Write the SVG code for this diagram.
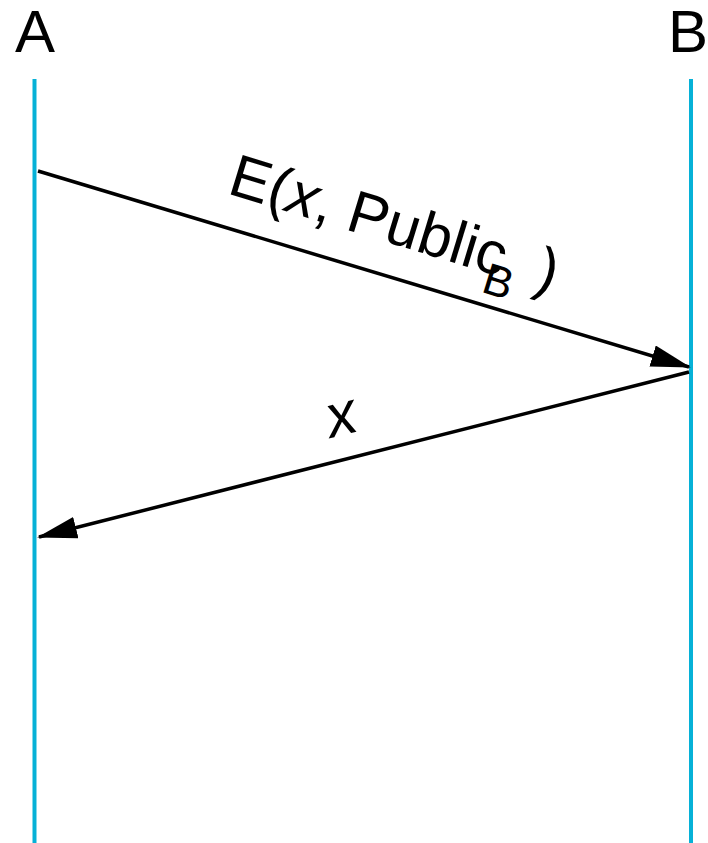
<svg xmlns="http://www.w3.org/2000/svg" width="708" height="843" viewBox="0 0 708 843">
<style>
.life{stroke:#06B1D7;stroke-width:4;fill:none}
.msg{stroke:#000;stroke-width:3.5;fill:none;marker-end:url(#ah)}
.lbl{font-family:"Liberation Sans",Arial,sans-serif;font-size:60px;fill:#000}
.it{font-style:italic}
</style>
<defs>
<marker id="ah" viewBox="0 0 40 22" refX="38" refY="11" markerWidth="40" markerHeight="22" markerUnits="userSpaceOnUse" orient="auto">
<path d="M0,0 L40,11 L0,22 z" fill="#000"/>
</marker>
</defs>
<rect width="708" height="843" fill="#fff"/>
<g id="A">
<text class="lbl" x="15" y="52">A</text>
<line class="life" x1="34.5" y1="79" x2="34.5" y2="843"/>
</g>
<g id="B">
<text class="lbl" x="668" y="52">B</text>
<line class="life" x1="691" y1="79" x2="691" y2="843"/>
</g>
<g id="connectors">
<line class="msg" x1="38" y1="171" x2="689" y2="367"/>
<line class="msg" x1="689" y1="372" x2="39" y2="537"/>
<text class="lbl" transform="translate(226,193) rotate(17)">E(<tspan class="it">x</tspan>, Public<tspan font-size="44" dx="-15" dy="20">B</tspan><tspan dx="3" dy="-20"> )</tspan></text>
<text class="lbl it" font-size="63" transform="translate(331,438) rotate(-14)">x</text>
</g>
</svg>
